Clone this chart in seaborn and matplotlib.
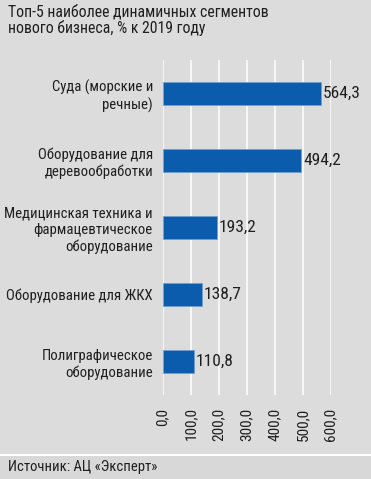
import matplotlib
matplotlib.use("Agg")
import matplotlib.pyplot as plt
from matplotlib.lines import Line2D
from matplotlib.patches import Rectangle
import seaborn as sns
import pandas as pd

categories = [
    "Суда (морские и\nречные)",
    "Оборудование для\nдеревообработки",
    "Медицинская техника и\nфармацевтическое\nоборудование",
    "Оборудование для ЖКХ",
    "Полиграфическое\nоборудование",
]
values = [564.3, 494.2, 193.2, 138.7, 110.8]
xticks = [0, 100, 200, 300, 400, 500, 600]
title = "Топ-5 наиболее динамичных сегментов\nнового бизнеса, % к 2019 году"
source = "Источник: АЦ «Эксперт»"

BG = "#dcdcdc"
BAR = "#0b5cad"
FONT = ["Roboto Condensed", "Sofia Sans Semi Condensed", "DejaVu Sans"]

sns.set_theme(style="white")
plt.rcParams["font.family"] = FONT
plt.rcParams["text.color"] = "#1f1f1f"

W, H = 371, 479
fig = plt.figure(figsize=(W / 100, H / 100), dpi=100, facecolor=BG)
ax = fig.add_axes([162.7 / W, 1 - 395 / H, 168 / W, 335 / H])
ax.set_facecolor(BG)

df = pd.DataFrame({"cat": categories, "val": values})
sns.barplot(data=df, x="val", y="cat", orient="h", color=BAR, width=0.35,
            saturation=1, ax=ax, zorder=3, edgecolor="#6f9fd0", linewidth=0.5)

ax.set_xlim(0, 600)
ax.set_ylim(4.5, -0.5)
ax.set_xticks(xticks)
ax.set_xticklabels([f"{v:.1f}".replace(".", ",") for v in xticks],
                   rotation=90, fontsize=11)
ax.tick_params(axis="x", length=0, pad=9, labelcolor="#1f1f1f")
ax.tick_params(axis="y", length=0, pad=7, labelcolor="#1f1f1f")
for lab in ax.get_yticklabels():
    lab.set_fontsize(10.6)
    lab.set_linespacing(1.2)
    lab.set_multialignment("right")
ax.set_xlabel("")
ax.set_ylabel("")
ax.grid(axis="x", color="white", linewidth=1.1, zorder=0)
ax.set_axisbelow(True)
for s in ax.spines.values():
    s.set_visible(False)

for c in ax.containers:
    ax.bar_label(c, labels=[f"{v:.1f}".replace(".", ",") for v in values],
                 padding=1.5, fontsize=12.5, clip_on=False)

fig.text(8 / W, 1 - 4 / H, title, ha="left", va="top", fontsize=11.3,
         linespacing=1.05)

fig.add_artist(Rectangle((0, 0), 1, 1 - 455 / H, transform=fig.transFigure,
                         facecolor="#d8d8d8", edgecolor="none", zorder=0))
fig.add_artist(Line2D([0, 1], [1 - 455 / H] * 2, transform=fig.transFigure,
                      color="white", linewidth=1.5))
fig.text(8 / W, 1 - 467 / H, source, ha="left", va="center", fontsize=10.5)

fig.savefig("out.png", dpi=100, facecolor=BG)
